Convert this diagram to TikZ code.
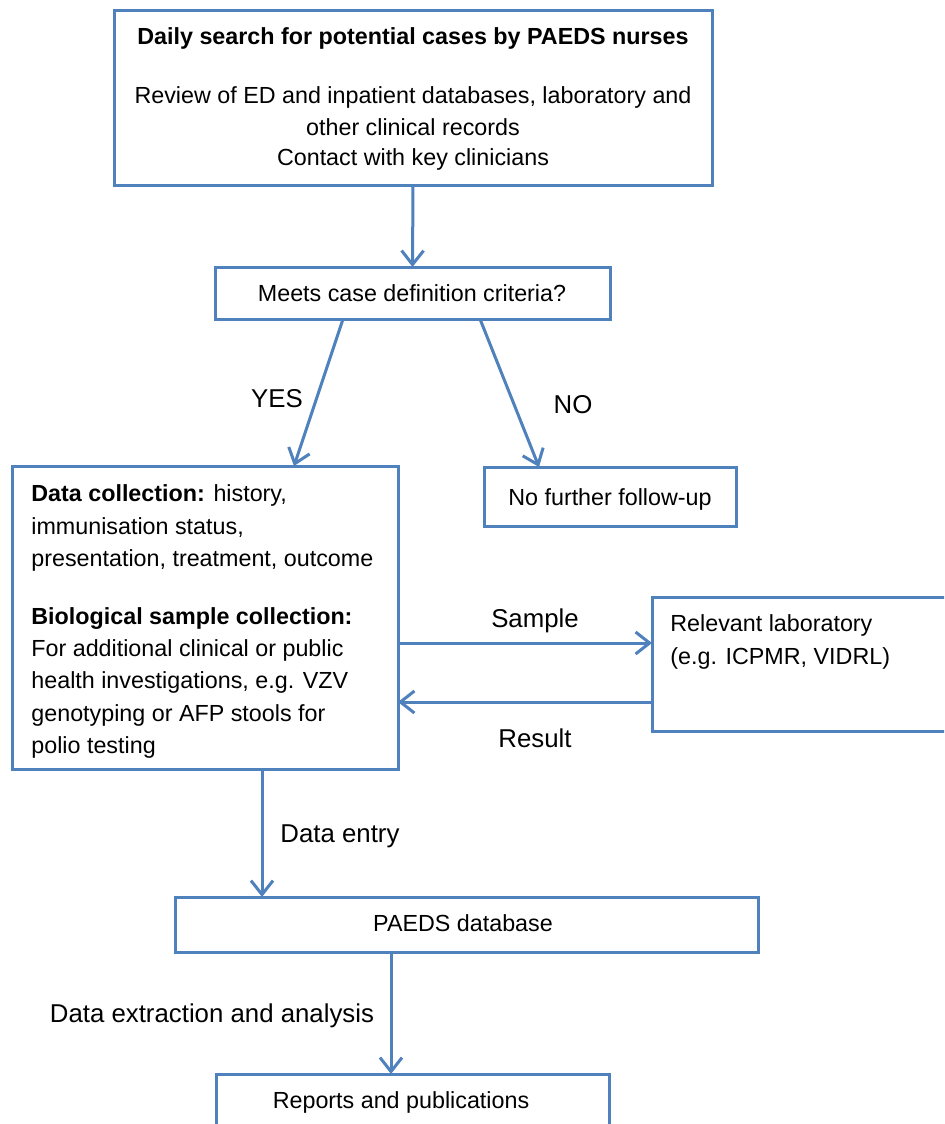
\documentclass[tikz,border=0pt]{standalone}
\usepackage{fontspec}
\setmainfont{Liberation Sans}
\usetikzlibrary{arrows.meta,fit}
\definecolor{bl}{HTML}{4F81BD}
\tikzset{
  box/.style={draw=bl, line width=1.5pt, inner sep=0pt, outer sep=0pt},
  conn/.style={draw=bl, line width=1.5pt,
    -{Straight Barb[length=7pt,width=11pt,line width=1.5pt]}},
  txt/.style={font=\fontsize{11.65pt}{16pt}\selectfont, inner sep=0pt},
  lbl/.style={font=\fontsize{12.9pt}{16pt}\selectfont, inner sep=0pt},
}
\begin{document}
\begin{tikzpicture}[x=0.5pt,y=-0.5pt]
\useasboundingbox (0,0) rectangle (944,1124);
\clip (0,0) rectangle (944,1124);
\fill[white] (0,0) rectangle (944,1124);

% boxes
\node[box, fit={(114,10) (712,185)}] (b1) {};
\node[box, fit={(215,267) (610,319)}] (b2) {};
\node[box, fit={(12,466) (398,769)}] (b3) {};
\node[box, fit={(484,467) (736,526)}] (b4) {};
\node[box, fit={(652,597) (990,731)}] (lab) {};
\node[box, fit={(175,897) (758,952)}] (db) {};
\node[box, fit={(216,1074) (609,1160)}] (rep) {};

% box texts
\node[txt, anchor=base] (t1) at (413,44) {\bfseries Daily search for potential cases by PAEDS nurses};
\node[txt, anchor=base] (t2) at (413,103) {Review of ED and inpatient databases, laboratory and};
\node[txt, anchor=base] (t3) at (413,135) {other clinical records};
\node[txt, anchor=base] (t4) at (413,165) {Contact with key clinicians};

\node[txt, anchor=base] (b2t) at (412,301) {Meets case definition criteria?};
\node[txt, anchor=base] (b4t) at (610,505) {No further follow-up};

\node[txt, anchor=base west] (d1) at (31,501) {\textbf{Data collection:} history,};
\node[txt, anchor=base west] (d2) at (31,534) {immunisation status,};
\node[txt, anchor=base west] (d3) at (31,566) {presentation, treatment, outcome};
\node[txt, anchor=base west] (d4) at (31,624) {\bfseries Biological sample collection:};
\node[txt, anchor=base west] (d5) at (31,656) {For additional clinical or public};
\node[txt, anchor=base west] (d6) at (31,688) {health investigations, e.g. VZV};
\node[txt, anchor=base west] (d7) at (31,721) {genotyping or AFP stools for};
\node[txt, anchor=base west] (d8) at (31,753) {polio testing};

\node[txt, anchor=base west] (l1) at (670,631) {Relevant laboratory};
\node[txt, anchor=base west] (l2) at (670,664) {(e.g. ICPMR, VIDRL)};

\node[txt, anchor=base] (dbt) at (463,931) {PAEDS database};
\node[txt, anchor=base] (rept) at (401,1108) {Reports and publications};

% connectors
\draw[conn] (b1.south) -- (b2.north);
\draw[conn] ([xshift=64pt]b2.south west) -- ([xshift=141pt]b3.north west);
\draw[conn] ([xshift=132.5pt]b2.south west) -- ([xshift=27.5pt]b4.north west);
\draw[conn] ([yshift=-12.75pt]b3.east) -- ([yshift=10.5pt]lab.west);
\draw[conn] ([yshift=-19pt]lab.west) -- ([yshift=-42.25pt]b3.east);
\draw[conn] ([xshift=125pt]b3.south west) -- ([xshift=43.5pt]db.north west);
\draw[conn] ([xshift=108pt]db.south west) -- ([xshift=87.5pt]rep.north west);

% connector labels
\node[lbl, anchor=base] (yes) at (277,407) {YES};
\node[lbl, anchor=base] (no) at (573,413) {NO};
\node[lbl, anchor=base] (smp) at (535,627) {Sample};
\node[lbl, anchor=base] (res) at (535,747) {Result};
\node[lbl, anchor=base] (de) at (340,842) {Data entry};
\node[lbl, anchor=base] (dx) at (212,1022) {Data extraction and analysis};
\end{tikzpicture}
\end{document}
